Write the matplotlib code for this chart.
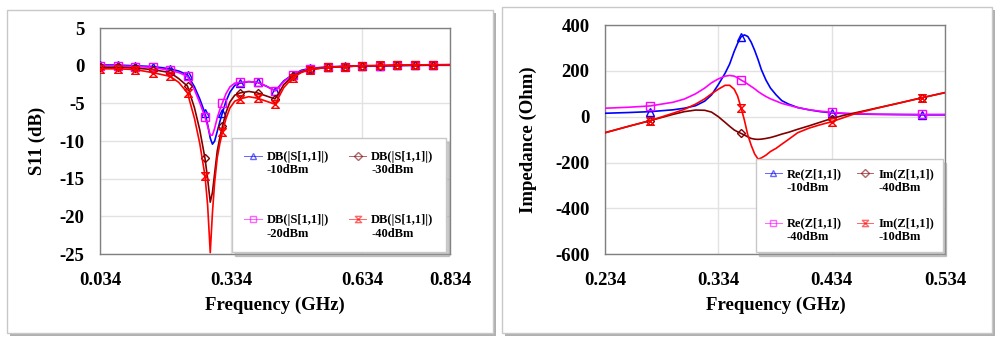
import numpy as np
import matplotlib
matplotlib.use('Agg')
import matplotlib.pyplot as plt
from matplotlib.patches import Rectangle
from matplotlib.path import Path
from matplotlib.legend_handler import HandlerLine2D
from matplotlib.lines import Line2D

plt.rcParams['font.family'] = ['Liberation Serif', 'DejaVu Serif']
plt.rcParams['font.weight'] = 'bold'
plt.rcParams['axes.unicode_minus'] = False

# ---------------- Left panel data: S11 (dB) ----------------
freq_s = [0.034, 0.074, 0.114, 0.154, 0.194, 0.214, 0.234, 0.250, 0.262, 0.274,
          0.280, 0.286, 0.291, 0.296, 0.302, 0.308, 0.314, 0.322, 0.331, 0.342,
          0.354, 0.374, 0.394, 0.414, 0.434, 0.444, 0.454, 0.474, 0.494, 0.514,
          0.554, 0.594, 0.634, 0.674, 0.714, 0.754, 0.794, 0.834]
s11_m10 = [0.1, 0.1, 0.0, -0.1, -0.4, -0.7, -1.2, -2.8, -4.4, -6.3,
           -7.8, -9.6, -10.4, -10.0, -8.7, -7.4, -6.2, -4.7, -3.5, -2.6,
           -2.3, -2.1, -2.2, -2.7, -3.3, -2.7, -2.0, -1.2, -0.6, -0.35,
           -0.15, -0.05, 0.0, 0.0, 0.05, 0.05, 0.1, 0.1]
s11_m20 = [0.0, 0.0, -0.1, -0.2, -0.6, -0.9, -1.4, -3.2, -4.9, -6.8,
           -8.0, -9.2, -9.2, -8.3, -6.9, -5.8, -4.9, -3.7, -2.8, -2.3,
           -2.2, -2.1, -2.2, -2.7, -3.3, -2.8, -2.1, -1.2, -0.7, -0.4,
           -0.2, -0.1, 0.0, 0.0, 0.05, 0.1, 0.1, 0.1]
s11_m30 = [-0.2, -0.2, -0.3, -0.5, -0.9, -1.7, -2.7, -5.6, -8.5, -12.3,
           -15.0, -18.1, -16.8, -14.3, -11.3, -9.5, -8.0, -6.2, -4.8, -3.9,
           -3.6, -3.4, -3.6, -4.0, -4.4, -3.5, -2.5, -1.4, -0.8, -0.5,
           -0.2, -0.1, 0.0, 0.0, 0.05, 0.1, 0.1, 0.15]
s11_m40 = [-0.4, -0.4, -0.5, -0.9, -1.4, -2.2, -3.6, -7.0, -10.3, -14.6,
           -18.5, -24.8, -19.5, -15.5, -12.2, -10.3, -8.8, -7.0, -5.6, -4.7,
           -4.4, -4.1, -4.3, -4.7, -5.1, -4.0, -2.9, -1.6, -0.9, -0.5,
           -0.2, -0.1, 0.0, 0.05, 0.1, 0.1, 0.15, 0.15]
marker_freq_s = [0.034, 0.074, 0.114, 0.154, 0.194, 0.234, 0.274, 0.314, 0.354, 0.394,
                 0.434, 0.474, 0.514, 0.554, 0.594, 0.634, 0.674, 0.714, 0.754, 0.794]
labels_s = ['DB(|S[1,1]|)\n-10dBm', 'DB(|S[1,1]|)\n-20dBm',
            'DB(|S[1,1]|)\n-30dBm', 'DB(|S[1,1]|)\n-40dBm']
xticks_s = [0.034, 0.334, 0.634, 0.834]
xticklabels_s = ['0.034', '0.334', '0.634', '0.834']
yticks_s = [5, 0, -5, -10, -15, -20, -25]

# ---------------- Right panel data: Impedance (Ohm) ----------------
freq_z = [0.234, 0.254, 0.274, 0.294, 0.304, 0.314, 0.322, 0.328, 0.334, 0.340,
          0.344, 0.348, 0.351, 0.354, 0.357, 0.360, 0.363, 0.366, 0.369, 0.372,
          0.376, 0.380, 0.385, 0.390, 0.396, 0.404, 0.414, 0.424, 0.434, 0.444,
          0.454, 0.474, 0.494, 0.514, 0.534]
re_m10 = [15, 18, 22, 30, 37, 48, 68, 95, 140, 190,
          230, 285, 320, 348, 357, 350, 325, 290, 250, 205,
          160, 125, 95, 70, 55, 40, 30, 22, 17, 14,
          12, 10, 9, 8, 8]
re_m40 = [37, 41, 47, 63, 77, 100, 125, 148, 165, 177,
          180, 177, 170, 160, 152, 142, 132, 122, 110, 100,
          88, 78, 68, 58, 50, 40, 30, 24, 19, 15,
          13, 11, 10, 10, 10]
im_m40 = [-70, -43, -17, 10, 22, 29, 28, 20, 0, -25,
          -42, -58, -66, -73, -80, -88, -95, -98, -99, -98,
          -95, -91, -84, -76, -68, -55, -40, -24, -8, 5,
          16, 38, 60, 83, 105]
im_m10 = [-70, -43, -17, 15, 32, 55, 78, 100, 120, 137,
          137, 120, 90, 40, -15, -80, -125, -162, -185, -180,
          -168, -152, -138, -120, -99, -70, -50, -35, -22, -5,
          12, 37, 60, 83, 105]
marker_freq_z = [0.274, 0.354, 0.434, 0.514]
labels_z = ['Re(Z[1,1])\n-10dBm', 'Re(Z[1,1])\n-40dBm',
            'Im(Z[1,1])\n-40dBm', 'Im(Z[1,1])\n-10dBm']
xticks_z = [0.234, 0.334, 0.434, 0.534]
xticklabels_z = ['0.234', '0.334', '0.434', '0.534']
yticks_z = [400, 200, 0, -200, -400, -600]

# ---------------- styles ----------------
C_BLUE, C_PINK, C_DRED, C_RED = '#0000ff', '#ff00ff', '#800000', '#ff0000'
hourglass = Path([(-1, 1), (1, 1), (-1, -1), (1, -1), (-1, 1)],
                 [Path.MOVETO, Path.LINETO, Path.LINETO, Path.LINETO, Path.CLOSEPOLY])


class FirstLineHandler(HandlerLine2D):
    """Put the legend handle level with the first line of a two-line label."""
    def __init__(self, shift=0.62, **kw):
        super().__init__(**kw)
        self.shift = shift

    def create_artists(self, legend, orig_handle, xdescent, ydescent, width,
                       height, fontsize, trans):
        arts = super().create_artists(legend, orig_handle, xdescent, ydescent,
                                      width, height, fontsize, trans)
        for a in arts:
            a.set_ydata(np.asarray(a.get_ydata(), float) + self.shift * fontsize)
        return arts


def mark_idx(freqs, mfreqs):
    f = np.asarray(freqs)
    return [int(np.argmin(np.abs(f - m))) for m in mfreqs]


fig = plt.figure(figsize=(10, 3.43), dpi=100)
fig.patch.set_facecolor('white')

# outer frames with shadow
for (x0, y0, w, h) in [(0.007, 0.029, 0.486, 0.942), (0.502, 0.029, 0.490, 0.951)]:
    fig.add_artist(Rectangle((x0 + 0.003, y0 - 0.009), w, h, transform=fig.transFigure,
                             facecolor='#b0b0b0', edgecolor='none', zorder=-3))
    fig.add_artist(Rectangle((x0, y0), w, h, transform=fig.transFigure,
                             facecolor='white', edgecolor='#c8c8c8', lw=1, zorder=-2))

axL = fig.add_axes([0.100, 0.259, 0.350, 0.659])
axR = fig.add_axes([0.605, 0.259, 0.340, 0.668])

TICK_FS = 13.5
LAB_FS = 13.5
LEG_FS = 9


def style_axes(ax):
    ax.set_facecolor('white')
    for sp in ax.spines.values():
        sp.set_color('#808080')
        sp.set_linewidth(1.0)
    ax.grid(True, color='#e2e2e2', lw=1.0, zorder=0)
    ax.set_axisbelow(True)
    ax.tick_params(axis='both', length=0, labelsize=TICK_FS)
    ax.tick_params(axis='y', pad=11)
    ax.tick_params(axis='x', pad=13)
    for t in ax.get_xticklabels() + ax.get_yticklabels():
        t.set_fontweight('bold')


# ---- left ----
mk_s = mark_idx(freq_s, marker_freq_s)
series_s = [(s11_m10, C_BLUE, '^'), (s11_m20, C_PINK, 's'),
            (s11_m30, C_DRED, 'D'), (s11_m40, C_RED, hourglass)]
for (vals, col, mk), lab in zip(series_s, labels_s):
    ms = 4.5 if mk == 'D' else 5.5
    axL.plot(freq_s, vals, color=col, lw=1.2, marker=mk, markevery=mk_s, ms=ms,
             mfc='none', mec=col, mew=1.0, label=lab, zorder=3)
axL.set_xlim(0.034, 0.834)
axL.set_ylim(-25, 5)
axL.set_xticks(xticks_s, labels=xticklabels_s)
axL.set_yticks(yticks_s)
style_axes(axL)
axL.set_xlabel('Frequency (GHz)', fontsize=LAB_FS, fontweight='bold')
axL.set_ylabel('S11 (dB)', fontsize=LAB_FS, fontweight='bold')
axL.xaxis.set_label_coords(0.5, -0.226)
axL.xaxis.label.set_va('center')
axL.yaxis.set_label_coords(-0.18, 0.5)
axL.yaxis.label.set_va('center')

legL = axL.legend(loc='lower right', bbox_to_anchor=(0.9886, 0.0088), borderaxespad=0,
                  ncol=2, fontsize=LEG_FS, handlelength=1.4, handletextpad=0.4,
                  columnspacing=1.6, labelspacing=3.0, borderpad=1.0, numpoints=1,
                  fancybox=False, framealpha=1, edgecolor='#c8c8c8',
                  shadow={'ox': 2.5, 'oy': -2.5, 'shade': 0.4},
                  handler_map={Line2D: FirstLineHandler()})

# ---- right ----
mk_z = mark_idx(freq_z, marker_freq_z)
series_z = [(re_m10, C_BLUE, '^'), (re_m40, C_PINK, 's'),
            (im_m40, C_DRED, 'D'), (im_m10, C_RED, hourglass)]
for (vals, col, mk), lab in zip(series_z, labels_z):
    ms = 4.5 if mk == 'D' else 5.5
    axR.plot(freq_z, vals, color=col, lw=1.2, marker=mk, markevery=mk_z, ms=ms,
             mfc='none', mec=col, mew=1.0, label=lab, zorder=3)
axR.set_xlim(0.234, 0.534)
axR.set_ylim(-600, 400)
axR.set_xticks(xticks_z, labels=xticklabels_z)
axR.set_yticks(yticks_z)
style_axes(axR)
axR.set_xlabel('Frequency (GHz)', fontsize=LAB_FS, fontweight='bold')
axR.set_ylabel('Impedance (Ohm)', fontsize=LAB_FS, fontweight='bold')
axR.xaxis.set_label_coords(0.502, -0.223)
axR.xaxis.label.set_va('center')
axR.yaxis.set_label_coords(-0.226, 0.5)
axR.yaxis.label.set_va('center')

legR = axR.legend(loc='lower right', bbox_to_anchor=(0.994, 0.0087), borderaxespad=0,
                  ncol=2, fontsize=LEG_FS, handlelength=1.35, handletextpad=0.4,
                  columnspacing=1.2, labelspacing=1.9, borderpad=0.7, numpoints=1,
                  fancybox=False, framealpha=1, edgecolor='#c8c8c8',
                  shadow={'ox': 2.5, 'oy': -2.5, 'shade': 0.4},
                  handler_map={Line2D: FirstLineHandler()})

for leg in (legL, legR):
    for t in leg.get_texts():
        t.set_fontweight('bold')
    for ln in leg.get_lines():
        ln.set_linewidth(0.7)
        ln.set_alpha(0.6)
        ln.set_markersize(4.5)

fig.savefig('out.png', dpi=100, facecolor='white')
